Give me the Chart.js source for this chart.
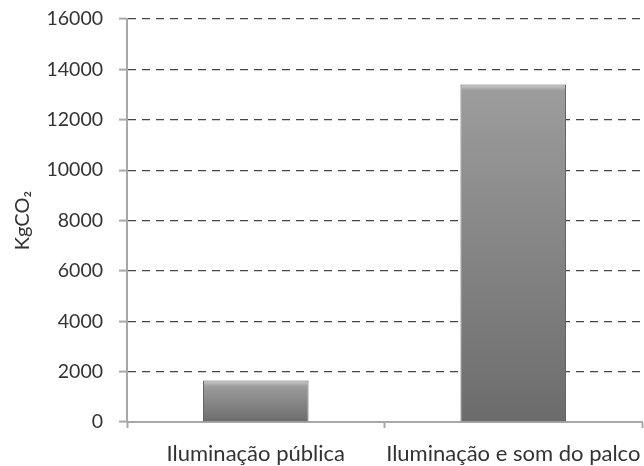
<!DOCTYPE html>
<html lang="pt">
<head>
  <meta charset="UTF-8">
  <title>KgCO2</title>
  <script src="https://cdn.jsdelivr.net/npm/chart.js"></script>
  <style>
    body { margin: 0; padding: 0; background: #ffffff; }
    .wrap { width: 644px; height: 466px; }
  </style>
</head>
<body>
  <div class="wrap"><canvas id="co2Chart"></canvas></div>
  <script>
    const categories = ['Iluminação pública', 'Iluminação e som do palco'];
    const emissions = [1650, 13400];
    const yMax = 16000;
    const yStep = 2000;

    const font = "Lato, 'DejaVu Sans', sans-serif";

    function barFill(c) {
      const chart = c.chart;
      if (!chart.chartArea) return '#888888';
      const ys = chart.scales.y;
      const top = ys.getPixelForValue(c.raw);
      const bottom = ys.getPixelForValue(0);
      const g = chart.ctx.createLinearGradient(0, top, 0, bottom);
      g.addColorStop(0, '#cfcfcf');
      g.addColorStop(Math.min(0.4, 6 / (bottom - top)), '#9c9c9c');
      g.addColorStop(1, '#6c6c6c');
      return g;
    }

    new Chart(document.getElementById('co2Chart'), {
      type: 'bar',
      data: {
        labels: categories,
        datasets: [{
          data: emissions,
          backgroundColor: barFill,
          borderColor: '#5e5e5e',
          borderWidth: 1,
          categoryPercentage: 1,
          barPercentage: 0.41
        }]
      },
      options: {
        responsive: true,
        maintainAspectRatio: false,
        animation: false,
        layout: { padding: { top: 19, right: 2, left: 0, bottom: 0 } },
        plugins: {
          legend: { display: false },
          tooltip: { enabled: false }
        },
        scales: {
          x: {
            grid: {
              offset: true,
              drawOnChartArea: false,
              drawTicks: true,
              tickLength: 6,
              tickColor: '#a8a8a8',
              tickWidth: 2
            },
            border: { color: '#a8a8a8', width: 2 },
            ticks: {
              padding: 13,
              color: '#333333',
              font: { family: font, size: 22 },
              maxRotation: 0
            },
            afterFit: (s) => { s.height = 44; s.paddingLeft = 0; s.paddingRight = 0; }
          },
          y: {
            min: 0,
            max: yMax,
            ticks: {
              stepSize: yStep,
              padding: 16,
              color: '#333333',
              font: { family: font, size: 19.5 },
              callback: (v) => String(v)
            },
            grid: {
              color: (c) => c.tick && c.tick.value === 0 ? 'rgba(0,0,0,0)' : '#454545',
              lineWidth: 1.2,
              tickLength: 8,
              tickColor: '#a8a8a8',
              tickWidth: 2,
              tickBorderDash: [10, 0]
            },
            border: { color: '#a8a8a8', width: 2, dash: [8, 6] },
            title: {
              display: true,
              text: 'KgCO₂',
              color: '#333333',
              font: { family: font, size: 20 },
              padding: { top: 11, bottom: 0 }
            },
            afterFit: (s) => { s.width = 127; s.paddingTop = 0; s.paddingBottom = 0; }
          }
        }
      }
    });
  </script>
</body>
</html>
